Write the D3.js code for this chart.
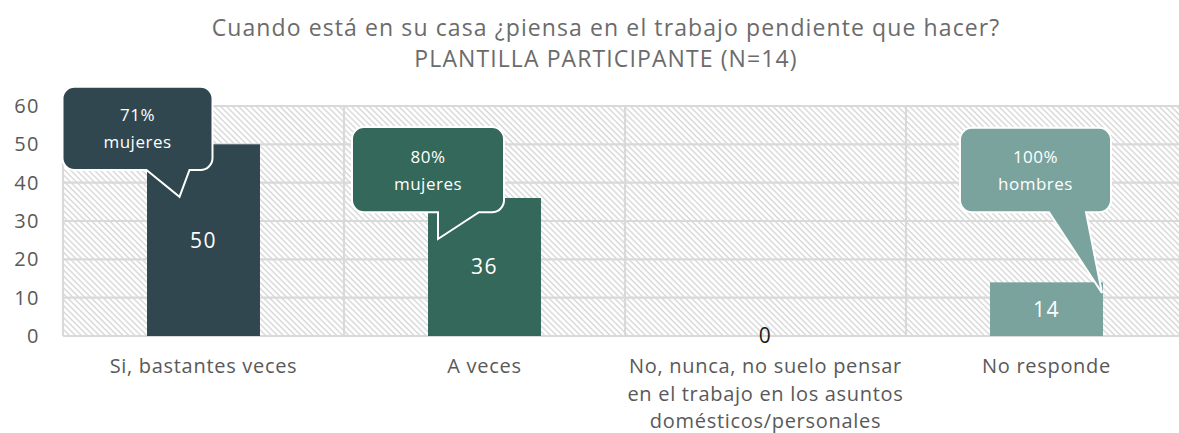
<!DOCTYPE html>
<html lang="es">
<head>
	<meta charset="utf-8">
	<script src="https://d3js.org/d3.v7.min.js"></script>
	<style type="text/css">
		body { margin: 0; background: #fff; }
		svg { font-family: "Open Sans", sans-serif; }
	</style>
</head>
<body>
	<script type="text/javascript">

	// chart data
	var categories = ["Si, bastantes veces", "A veces",
		"No, nunca, no suelo pensar en el trabajo en los asuntos domésticos/personales", "No responde"];
	var categoryLines = [["Si, bastantes veces"], ["A veces"],
		["No, nunca, no suelo pensar", "en el trabajo en los asuntos", "domésticos/personales"], ["No responde"]];
	var values = [50, 36, 0, 14];
	var barColors = ["#30474f", "#33685a", "#30474f", "#7aa39e"];
	var yTicks = [0, 10, 20, 30, 40, 50, 60];
	var titleLines = ["Cuando está en su casa ¿piensa en el trabajo pendiente que hacer?",
		"PLANTILLA PARTICIPANTE (N=14)"];

	// callout texts, one per bar (null = none)
	var calloutTop = ["71%", "80%", null, "100%"];
	var calloutBottom = ["mujeres", "mujeres", null, "hombres"];

	var width = 1179, height = 433;
	var margin = {left: 63, top: 106, bottom: 336};

	var x = d3.scaleBand()
		.domain(categories)
		.range([margin.left, margin.left + 4 * 281]);

	var y = d3.scaleLinear()
		.domain([0, 60])
		.range([margin.bottom, margin.top]);

	var barW = x.bandwidth() * 0.402;

	var svg = d3.select("body").append("svg")
		.attr("width", width)
		.attr("height", height);

	// hatched background
	var defs = svg.append("defs");
	defs.append("pattern")
		.attr("id", "hatch")
		.attr("patternUnits", "userSpaceOnUse")
		.attr("width", 4.2)
		.attr("height", 4.2)
		.attr("patternTransform", "rotate(-45)")
		.append("line")
		.attr("x1", 1).attr("y1", 0)
		.attr("x2", 1).attr("y2", 4.2)
		.style("stroke", "#d6d6d6")
		.style("stroke-width", 1.4);

	svg.append("rect")
		.attr("x", x.range()[0])
		.attr("y", y(60))
		.attr("width", x.range()[1] - x.range()[0])
		.attr("height", y(0) - y(60))
		.style("fill", "url(#hatch)");

	// gridlines
	svg.selectAll(".hgrid")
		.data(yTicks)
		.enter().append("line")
		.attr("class", "hgrid")
		.attr("x1", x.range()[0]).attr("x2", x.range()[1])
		.attr("y1", function(d) { return y(d); })
		.attr("y2", function(d) { return y(d); })
		.style("stroke", "#d9d9d9")
		.style("stroke-width", 2.2);

	svg.selectAll(".vgrid")
		.data(categories)
		.enter().append("line")
		.attr("class", "vgrid")
		.attr("x1", function(d) { return x(d); })
		.attr("x2", function(d) { return x(d); })
		.attr("y1", y(60)).attr("y2", y(0))
		.style("stroke", "#d9d9d9")
		.style("stroke-width", 2.2);

	// y axis labels
	svg.selectAll(".ytick")
		.data(yTicks)
		.enter().append("text")
		.attr("class", "ytick")
		.attr("x", 40)
		.attr("y", function(d) { return y(d); })
		.attr("dy", "0.35em")
		.attr("text-anchor", "end")
		.style("font-size", "20px")
		.style("letter-spacing", "1.5px")
		.style("fill", "#595959")
		.text(function(d) { return d; });

	// bars
	svg.selectAll(".bar")
		.data(values)
		.enter().append("rect")
		.attr("class", "bar")
		.attr("x", function(d, i) { return x(categories[i]) + (x.bandwidth() - barW) / 2; })
		.attr("y", function(d) { return y(d); })
		.attr("width", barW)
		.attr("height", function(d) { return y(0) - y(d); })
		.style("fill", function(d, i) { return barColors[i]; });

	// value labels
	svg.selectAll(".vlabel")
		.data(values)
		.enter().append("text")
		.attr("class", "vlabel")
		.attr("x", function(d, i) { return x(categories[i]) + x.bandwidth() / 2; })
		.attr("y", function(d) { return d > 0 ? (y(d) + y(0)) / 2 : y(0); })
		.attr("dy", "0.35em")
		.attr("text-anchor", "middle")
		.style("font-size", "21px")
		.style("letter-spacing", "1.5px")
		.style("fill", function(d) { return d > 0 ? "#ffffff" : "#1a1a1a"; })
		.text(function(d) { return d; });

	// category labels
	categoryLines.forEach(function(lines, i) {
		var t = svg.append("text")
			.attr("x", x(categories[i]) + x.bandwidth() / 2)
			.attr("y", 373)
			.attr("text-anchor", "middle")
			.style("font-size", "20px")
			.style("letter-spacing", "0.7px")
			.style("fill", "#595959");
		lines.forEach(function(l, j) {
			t.append("tspan")
				.attr("x", x(categories[i]) + x.bandwidth() / 2)
				.attr("dy", j === 0 ? 0 : 27.5)
				.text(l);
		});
	});

	// callout layout (box offset from band centre, tail base and tip)
	var calloutLayout = [
		{dx: -66, w: 150, top: 65, bottom: 43.3, base: [-57, -14], tip: [-24, 36.3]},
		{dx: -56.5, w: 152, top: 54.5, bottom: 32.3, base: [-46.5, -5.5], tip: [-46.5, 25.3]},
		null,
		{dx: -11, w: 151, top: 54.3, bottom: 32.3, base: [2.5, 39.5], tip: [55.5, 11.2]}
	];

	calloutLayout.forEach(function(c, i) {
		if (!c) return;
		var cx = x(categories[i]) + x.bandwidth() / 2;
		var x0 = cx + c.dx - c.w / 2, x1 = cx + c.dx + c.w / 2;
		var y0 = y(c.top), y1 = y(c.bottom), r = 12;
		var p = d3.path();
		p.moveTo(x0 + r, y0);
		p.lineTo(x1 - r, y0);
		p.arcTo(x1, y0, x1, y0 + r, r);
		p.lineTo(x1, y1 - r);
		p.arcTo(x1, y1, x1 - r, y1, r);
		p.lineTo(cx + c.base[1], y1);
		p.lineTo(cx + c.tip[0], y(c.tip[1]));
		p.lineTo(cx + c.base[0], y1);
		p.lineTo(x0 + r, y1);
		p.arcTo(x0, y1, x0, y1 - r, r);
		p.lineTo(x0, y0 + r);
		p.arcTo(x0, y0, x0 + r, y0, r);
		p.closePath();
		svg.append("path")
			.attr("d", p.toString())
			.style("fill", barColors[i])
			.style("stroke", "#ffffff")
			.style("stroke-width", 2);

		var mid = (y0 + y1) / 2;
		[calloutTop[i], calloutBottom[i]].forEach(function(s, j) {
			svg.append("text")
				.attr("x", cx + c.dx).attr("y", mid + (j === 0 ? -13 : 14))
				.attr("dy", "0.35em")
				.attr("text-anchor", "middle")
				.style("font-size", "17px")
				.style("letter-spacing", "0.5px")
				.style("fill", "#ffffff")
				.text(s);
		});
	});

	// title
	svg.selectAll(".title")
		.data(titleLines)
		.enter().append("text")
		.attr("class", "title")
		.attr("x", 606)
		.attr("y", function(d, i) { return 36 + i * 31; })
		.attr("text-anchor", "middle")
		.style("font-size", "23px")
		.style("letter-spacing", "1.1px")
		.style("fill", "#6b6b6b")
		.text(function(d) { return d; });
	</script>
</body>
</html>
